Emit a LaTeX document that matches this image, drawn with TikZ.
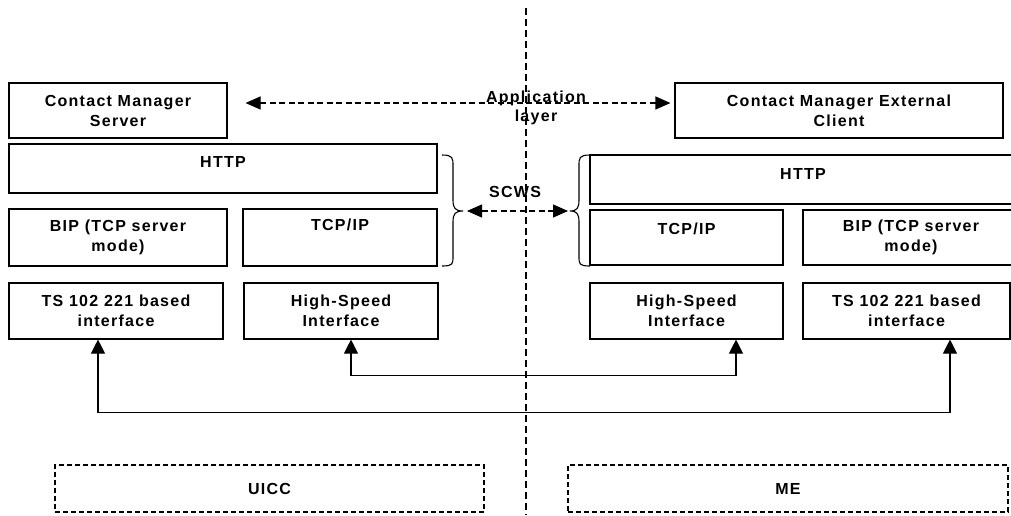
\documentclass[tikz,border=0pt]{standalone}
\usepackage{fontspec}
\setmainfont{Liberation Sans}[LetterSpace=8]
\usetikzlibrary{arrows.meta}
\begin{document}
\begin{tikzpicture}[x=1pt,y=-1pt,
  font=\bfseries\fontsize{16pt}{20pt}\selectfont,
  box/.style={draw, line width=1.1pt, inner sep=0pt, align=center},
  dbox/.style={draw, line width=1.1pt, inner sep=0pt, align=center, dash pattern=on 5pt off 3pt},
  base/.style={text height=11.5pt, text depth=#1},
  darrow/.style={line width=1.1pt, dash pattern=on 6pt off 3.5pt, {Triangle[length=15pt,width=13pt]}-{Triangle[length=15pt,width=13pt]}},
  sarrow/.style={line width=1.1pt, {Triangle[length=14pt,width=14pt]}-{Triangle[length=14pt,width=14pt]}},
  bracepath/.style={line width=1.1pt}
]
\useasboundingbox (0,0) rectangle (1011,515);
\clip (0,0) rectangle (1011,515);

% divider
\coordinate (dtop) at (526,8);
\coordinate (dbot) at (526,515);
\draw[line width=1.1pt, dash pattern=on 7pt off 4pt] (dtop) -- (dbot);

% UICC side
\node[box, minimum width=218pt, minimum height=55pt] (cms) at (118,110.5) {Contact Manager\\Server};
\node[box, base=14.5pt, minimum width=428pt, minimum height=49pt] (httpL) at (223,168.5) {HTTP};
\node[box, minimum width=218pt, minimum height=57pt] (bipL) at (118,237.5) {BIP (TCP server\\mode)};
\node[box, base=26.5pt, minimum width=194pt, minimum height=57pt] (tcpL) at (340,237.5) {TCP/IP};
\node[box, minimum width=214pt, minimum height=56pt] (tsL) at (116,311) {TS 102 221 based\\interface};
\node[box, minimum width=194pt, minimum height=56pt] (hsL) at (341,311) {High-Speed\\Interface};

% ME side
\node[box, minimum width=328pt, minimum height=55pt] (cmc) at (839,110.5) {Contact Manager External\\Client};
\node[box, base=11.5pt, minimum width=426pt, minimum height=49pt] (httpR) at (803,179.5) {HTTP};
\node[box, base=18.5pt, minimum width=193pt, minimum height=55pt] (tcpR) at (686.5,237.5) {TCP/IP};
\node[box, minimum width=216pt, minimum height=55pt] (bipR) at (911,237.5) {BIP (TCP server\\mode)};
\node[box, minimum width=193pt, minimum height=56pt] (hsR) at (686.5,311) {High-Speed\\Interface};
\node[box, minimum width=207pt, minimum height=56pt] (tsR) at (906.5,311) {TS 102 221 based\\interface};

% bottom dashed boxes
\node[dbox, minimum width=429pt, minimum height=47pt] (uicc) at (269.5,488.5) {UICC};
\node[dbox, minimum width=440pt, minimum height=47pt] (me) at (788,488.5) {ME};

% application layer
\draw[darrow] ([xshift=18pt,yshift=7.5pt]cms.east) -- ([xshift=-4pt,yshift=7.5pt]cmc.west);
\node[align=center, font=\bfseries\fontsize{16pt}{19pt}\selectfont] (app) at (536,107.5) {Application\\layer};

% braces
\coordinate (bl) at (463,211);
\coordinate (br) at (570,211);
\draw[bracepath] (442,155) .. controls (453,155) and (453,158) .. (453,166) -- (453,200)
  .. controls (453,208) and (455,211) .. (bl)
  .. controls (455,211) and (453,214) .. (453,222) -- (453,256)
  .. controls (453,264) and (453,266) .. (442,266);
\draw[bracepath] (590,155) .. controls (579,155) and (579,158) .. (579,166) -- (579,200)
  .. controls (579,208) and (577,211) .. (br)
  .. controls (577,211) and (579,214) .. (579,222) -- (579,256)
  .. controls (579,264) and (579,266) .. (590,266);
\draw[darrow, shorten <=4pt, shorten >=2pt] (bl) -- (br);
\node (scws) at (515,192) {SCWS};

% physical links
\draw[sarrow] ([xshift=10pt]hsL.south) -- ++(0,36) -| ([xshift=49.5pt]hsR.south);
\draw[sarrow] ([xshift=-18pt]tsL.south) -- ++(0,73) -| ([xshift=43.5pt]tsR.south);
\end{tikzpicture}
\end{document}
